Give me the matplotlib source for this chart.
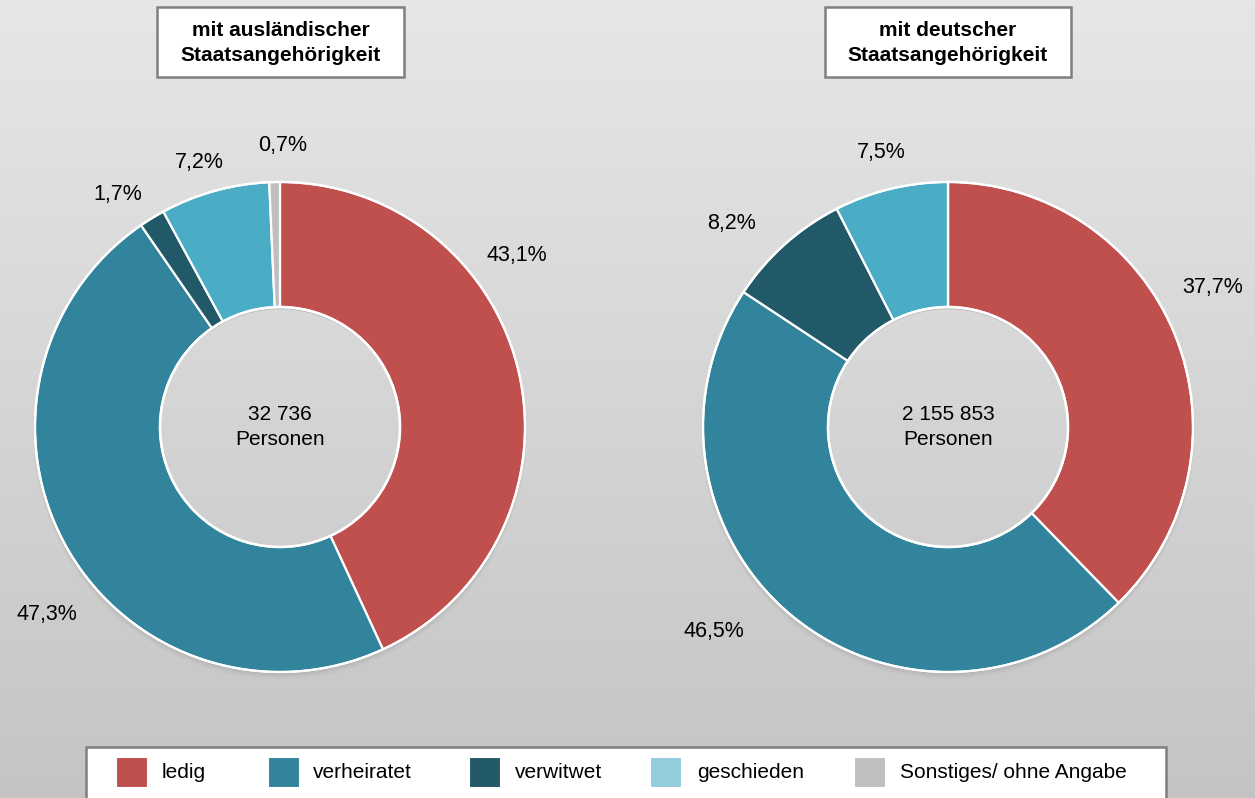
import matplotlib

matplotlib.use("Agg")
import matplotlib.pyplot as plt
import numpy as np
from matplotlib.patches import Rectangle, Circle, Wedge

# ----- data -----
categories = ["ledig", "verheiratet", "verwitwet", "geschieden", "Sonstiges/ ohne Angabe"]
auslaendisch = [43.1, 47.3, 1.7, 7.2, 0.7]
deutsch = [37.7, 46.5, 8.2, 7.5, 0.0]
titles = ["mit ausländischer\nStaatsangehörigkeit", "mit deutscher\nStaatsangehörigkeit"]
center_texts = ["32 736\nPersonen", "2 155 853\nPersonen"]

colors = ["#C0504D", "#31849B", "#215968", "#4BACC6", "#BFBFBF"]
legend_colors = ["#C0504D", "#31849B", "#215968", "#93CDDD", "#BFBFBF"]

# label offsets (in units of outer radius), per slice
label_pos_left = [(0.965, 0.698), (-0.951, -0.767), (-0.661, 0.947), (-0.331, 1.078), (0.012, 1.151)]
label_pos_right = [(1.082, 0.571), (-0.955, -0.833), (-0.882, 0.829), (-0.273, 1.122), None]

W, H = 1255, 798
plt.rcParams["font.family"] = ["Liberation Sans", "DejaVu Sans"]
fig = plt.figure(figsize=(W / 100, H / 100), dpi=100)

# background gradient
bg = fig.add_axes([0, 0, 1, 1], zorder=-10)
grad = np.linspace(0.90, 0.767, 256).reshape(-1, 1)
bg.imshow(np.repeat(grad, 2, axis=1), cmap="gray", vmin=0, vmax=1, aspect="auto",
          extent=[0, 1, 0, 1], origin="upper")
bg.set_xlim(0, 1)
bg.set_ylim(0, 1)
bg.axis("off")


def px_rect(x0, y0, x1, y1):
    """Pixel box (top-left origin) -> figure fraction [l, b, w, h]."""
    return [x0 / W, 1 - y1 / H, (x1 - x0) / W, (y1 - y0) / H]


def donut(cx, values, label_pos, title, center_text, title_box):
    r = 245
    inner = 120 / 245
    ax = fig.add_axes(px_rect(cx - r, 427 - r, cx + r, 427 + r))

    # soft shadow under ring
    for k, a in enumerate([0.06, 0.04, 0.025]):
        ax.add_patch(Wedge((0.0, -0.008 - k * 0.006), 1.0 + k * 0.004, 0, 360,
                           width=1.0 - inner, color="black", alpha=a, lw=0,
                           zorder=0, clip_on=False))

    wedges, _ = ax.pie(values, colors=colors, startangle=90, counterclock=False,
                       radius=1.0, wedgeprops=dict(width=1 - inner, edgecolor="white",
                                                   linewidth=1.6))
    for w in wedges:
        w.set_zorder(2)
        w.set_clip_on(False)
    ax.add_patch(Circle((0, 0), 1.0, fill=False, edgecolor="white", lw=1.6, zorder=3,
                        clip_on=False))
    ax.add_patch(Circle((0, 0), inner, fill=False, edgecolor="white", lw=1.8, zorder=3))
    ax.set_xlim(-1, 1)
    ax.set_ylim(-1, 1)
    ax.set_aspect("equal")
    ax.axis("off")

    for v, pos in zip(values, label_pos):
        if pos is None or v <= 0:
            continue
        ax.text(pos[0], pos[1], f"{v:.1f}%".replace(".", ","), ha="center", va="center",
                fontsize=15.5, color="black", clip_on=False)

    ax.text(0.0, 0.0, center_text, ha="center", va="center", fontsize=15,
            linespacing=1.35, color="black")

    x0, x1 = title_box
    fig.patches.append(Rectangle((x0 / W, 1 - 77 / H), (x1 - x0) / W, 70 / H,
                                 transform=fig.transFigure, facecolor="white",
                                 edgecolor="#7F7F7F", lw=1.8))
    fig.text((x0 + x1) / 2 / W, 1 - 43 / H, title, ha="center", va="center",
             fontsize=15, fontweight="bold", linespacing=1.45)


donut(280, auslaendisch, label_pos_left, titles[0], center_texts[0], (157, 404))
donut(948, deutsch, label_pos_right, titles[1], center_texts[1], (825, 1071))

# legend box
fig.patches.append(Rectangle((86 / W, -0.01), (1166 - 86) / W, 1 - 747 / H + 0.01,
                             transform=fig.transFigure, facecolor="white",
                             edgecolor="#7F7F7F", lw=1.8))
patch_x = [116, 268, 469, 650, 854]
text_x = [162, 313, 515, 697, 900]
for c, name, px, tx in zip(legend_colors, categories, patch_x, text_x):
    fig.patches.append(Rectangle((px / W, 1 - 787 / H), 31 / W, 30 / H,
                                 transform=fig.transFigure, facecolor=c,
                                 edgecolor="white", lw=0.8))
    fig.text(tx / W, 1 - 773 / H, name, ha="left", va="center", fontsize=15)

fig.savefig("out.png", dpi=100)
